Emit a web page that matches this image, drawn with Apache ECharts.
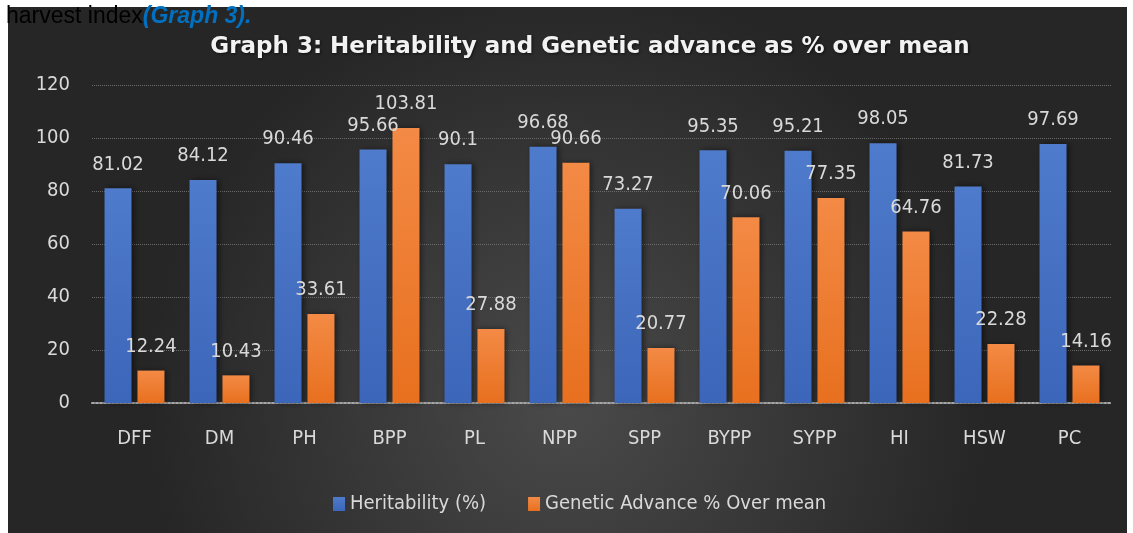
<!DOCTYPE html>
<html>
<head>
<meta charset="utf-8">
<script src="https://cdn.jsdelivr.net/npm/echarts@6/dist/echarts.min.js"></script>
<style>
html, body { margin: 0; padding: 0; background: #fff; }
#chart { width: 1133px; height: 533px; }
</style>
</head>
<body>
<div id="chart"></div>
<script>
'use strict';
var traits = ['DFF', 'DM', 'PH', 'BPP', 'PL', 'NPP', 'SPP', 'BYPP', 'SYPP', 'HI', 'HSW', 'PC'];
var heritability = [81.02, 84.12, 90.46, 95.66, 90.1, 96.68, 73.27, 95.35, 95.21, 98.05, 81.73, 97.69];
var geneticAdvance = [12.24, 10.43, 33.61, 103.81, 27.88, 90.66, 20.77, 70.06, 77.35, 64.76, 22.28, 14.16];

var narrow = '"Liberation Sans Narrow", "DejaVu Sans Condensed", "Liberation Sans", sans-serif';
var labelColor = '#d9d9d9';

var myChart = echarts.init(document.getElementById('chart'));
var option = {
	backgroundColor: '#fff',
	graphic: [
		{
			type: 'rect',
			z: -10,
			silent: true,
			shape: {x: 8, y: 7, width: 1119, height: 526},
			style: {
				fill: {
					type: 'radial', x: 0.5, y: 0.75, r: 0.8,
					colorStops: [
						{offset: 0, color: '#4a4a4a'},
						{offset: 1, color: '#262626'}
					]
				}
			}
		},
		{
			type: 'text',
			left: 6,
			top: 5,
			z: 10,
			style: {
				text: '{a|harvest index}{b|(Graph 3).}',
				rich: {
					a: {fontFamily: '"Liberation Sans", Arial, sans-serif', fontSize: 23, fill: '#000'},
					b: {fontFamily: '"Liberation Sans", Arial, sans-serif', fontSize: 23, fontWeight: 'bold', fontStyle: 'italic', fill: '#0070c0'}
				}
			}
		}
	],
	title: {
		text: 'Graph 3: Heritability and Genetic advance as % over mean',
		left: 585,
		textAlign: 'center',
		top: 31,
		textStyle: {
			color: '#f2f2f2',
			fontSize: 23,
			fontWeight: 'bold',
			fontFamily: '"DejaVu Sans", sans-serif',
			textShadowColor: 'rgba(0,0,0,0.6)',
			textShadowBlur: 3,
			textShadowOffsetX: 1,
			textShadowOffsetY: 1
		}
	},
	legend: {
		data: ['Heritability (%)', 'Genetic Advance % Over mean'],
		left: 328,
		top: 489,
		icon: 'rect',
		itemWidth: 12,
		itemHeight: 14,
		itemGap: 42,
		textStyle: {color: labelColor, fontSize: 20, fontFamily: narrow}
	},
	grid: {left: 92, right: 21, top: 85, bottom: 130},
	xAxis: {
		type: 'category',
		data: traits,
		axisLine: {lineStyle: {color: '#a6a6a6', width: 2, type: 'dotted'}},
		axisTick: {show: false},
		axisLabel: {color: labelColor, fontSize: 20, fontFamily: narrow, margin: 26}
	},
	yAxis: {
		type: 'value',
		min: 0,
		max: 120,
		interval: 20,
		axisLine: {show: false},
		axisTick: {show: false},
		axisLabel: {color: labelColor, fontSize: 20, fontFamily: narrow, margin: 22},
		splitLine: {lineStyle: {color: '#6a6a6a', type: 'dotted', width: 1}}
	},
	series: [
		{
			name: 'Heritability (%)',
			type: 'bar',
			data: heritability,
			barWidth: 27,
			barGap: '22%',
			itemStyle: {
				color: {
					type: 'linear', x: 0, y: 0, x2: 0, y2: 1,
					colorStops: [{offset: 0, color: '#4f7bcc'}, {offset: 1, color: '#3c66b9'}]
				},
				shadowColor: 'rgba(0,0,0,0.5)',
				shadowBlur: 6,
				shadowOffsetX: 2
			},
			label: {
				show: true,
				position: 'top',
				distance: 14,
				color: labelColor,
				fontSize: 20,
				fontFamily: narrow,
				formatter: function (p) { return String(p.value); }
			}
		},
		{
			name: 'Genetic Advance % Over mean',
			type: 'bar',
			data: geneticAdvance,
			barWidth: 27,
			barGap: '22%',
			itemStyle: {
				color: {
					type: 'linear', x: 0, y: 0, x2: 0, y2: 1,
					colorStops: [{offset: 0, color: '#f38a45'}, {offset: 1, color: '#e8701f'}]
				},
				shadowColor: 'rgba(0,0,0,0.5)',
				shadowBlur: 6,
				shadowOffsetX: 2
			},
			label: {
				show: true,
				position: 'top',
				distance: 14,
				color: labelColor,
				fontSize: 20,
				fontFamily: narrow,
				formatter: function (p) { return String(p.value); }
			}
		}
	]
};
myChart.setOption(option);
</script>
</body>
</html>
